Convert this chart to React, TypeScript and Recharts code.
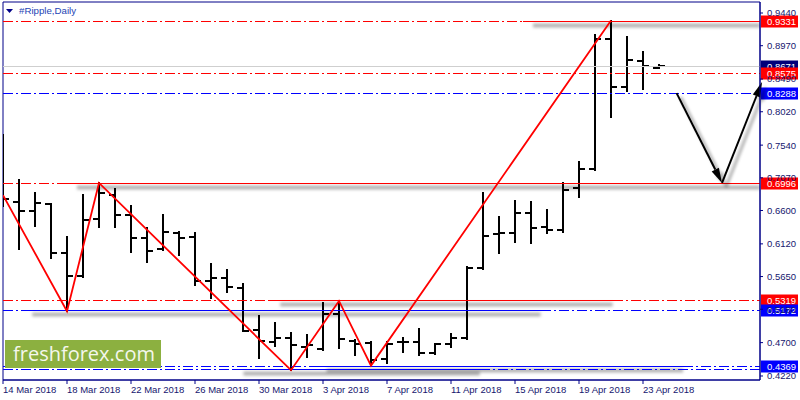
import React from "react";
import {
  Bar,
  ComposedChart,
  Line,
  ReferenceArea,
  ReferenceLine,
  XAxis,
  YAxis
} from "recharts";

// daily bars, day 0 = 14 Mar 2018
const days = [
  0, 1, 2, 3, 4, 5, 6, 7, 8, 9, 10, 11, 12, 13, 14, 15, 16, 17, 18, 19, 20,
  21, 22, 23, 24, 25, 26, 27, 28, 29, 30, 31, 32, 33, 34, 35, 36, 37, 38, 39,
  40, 41
];
const opens = [
  0.7, 0.6721, 0.6591, 0.6692, 0.5987, 0.5656, 0.6476, 0.6821, 0.6533, 0.6203,
  0.6044, 0.6274, 0.6217, 0.5584, 0.5627, 0.5483, 0.4879, 0.4706, 0.4764,
  0.4634, 0.4606, 0.5109, 0.4721, 0.4692, 0.4462, 0.4706, 0.4706, 0.4548,
  0.4677, 0.4764, 0.5771, 0.626, 0.6274, 0.6562, 0.6361, 0.6318, 0.6922,
  0.7195, 0.9066, 0.8375, 0.8749, 0.8649
];
const highs = [
  0.7685, 0.7037, 0.685, 0.6692, 0.6217, 0.6821, 0.6996, 0.6908, 0.6663,
  0.6346, 0.6533, 0.6289, 0.6274, 0.5829, 0.5742, 0.5541, 0.508, 0.498, 0.4836,
  0.4807, 0.5267, 0.53, 0.4735, 0.4706, 0.4706, 0.4764, 0.4893, 0.4677, 0.4821,
  0.5785, 0.685, 0.6505, 0.6735, 0.6721, 0.6606, 0.6994, 0.7296, 0.9124,
  0.9331, 0.9095, 0.8879, 0.8692
];
const lows = [
  0.6663, 0.6044, 0.6375, 0.5915, 0.5152, 0.5641, 0.6361, 0.6361, 0.6001,
  0.5857, 0.603, 0.5958, 0.5526, 0.5339, 0.5426, 0.486, 0.4476, 0.4649, 0.4303,
  0.449, 0.4591, 0.462, 0.4519, 0.4369, 0.4404, 0.4562, 0.4519, 0.4534, 0.4634,
  0.4749, 0.5757, 0.5987, 0.6145, 0.6131, 0.6274, 0.6289, 0.6793, 0.7181,
  0.7944, 0.8318, 0.8347, 0.8649
];
const closes = [
  0.6764, 0.6591, 0.6706, 0.5987, 0.5656, 0.6462, 0.685, 0.6533, 0.6203,
  0.6016, 0.6289, 0.6203, 0.5584, 0.5627, 0.5498, 0.4865, 0.4721, 0.4764,
  0.4663, 0.4663, 0.5109, 0.4749, 0.4677, 0.4447, 0.4677, 0.4706, 0.4548,
  0.4677, 0.4764, 0.5771, 0.6231, 0.6274, 0.6562, 0.6346, 0.6318, 0.6893,
  0.7195, 0.9066, 0.8375, 0.8764, 0.8677, 0.8671
];

const dateTicks = [0, 4, 8, 12, 16, 20, 24, 28, 32, 36, 40];
const dateLabels = [
  "14 Mar 2018",
  "18 Mar 2018",
  "22 Mar 2018",
  "26 Mar 2018",
  "30 Mar 2018",
  "3 Apr 2018",
  "7 Apr 2018",
  "11 Apr 2018",
  "15 Apr 2018",
  "19 Apr 2018",
  "23 Apr 2018"
];
const priceTicks = [
  0.944, 0.897, 0.849, 0.802, 0.754, 0.707, 0.66, 0.612, 0.565, 0.518, 0.47,
  0.422
];

const zigzagDays = [0, 4, 6, 18, 21, 23, 38];
const zigzagPrices = [0.6821, 0.5152, 0.6996, 0.4303, 0.53, 0.4369, 0.9331];

// horizontal levels: solid part between solidFrom and solidTo, dash-dot elsewhere
const levelPrices = [0.9331, 0.8575, 0.8288, 0.6996, 0.5319, 0.5172, 0.4369, 0.4317];
const levelKinds = ["res", "res", "sup", "res", "res", "sup", "sup", "sup"];
const levelSolidFrom = [32.5, null, null, 4.0, 16.7, 1.2, 19.6, 14.4];
const levelSolidTo = [47.3125, null, null, 47.3125, 38.1, 33.6, 42.5, 29.8];
const levelLabelled = [true, true, true, true, true, true, true, false];

const lastPrice = 0.8671;

const arrowDays = [42.1, 44.94, 47.44];
const arrowPrices = [0.8288, 0.6996, 0.8447];

const X_MAX = 47.3125;
const Y_MIN = 0.41624;
const Y_MAX = 0.95983;
const FONT = "'Liberation Sans', Arial, sans-serif";
const NAVY = "#000088";
const TEXT = "#16166e";

const rows = days.map((day, i) => ({
  day,
  open: opens[i],
  high: highs[i],
  low: lows[i],
  close: closes[i]
}));

const zigzag = zigzagDays.map((day, i) => ({ day, price: zigzagPrices[i] }));

const softShadow = (
  <defs>
    <filter
      id="soft"
      filterUnits="userSpaceOnUse"
      x={0}
      y={0}
      width={800}
      height={400}
    >
      <feGaussianBlur stdDeviation="1.8" />
    </filter>
  </defs>
);

function OhlcBar(props: any) {
  const { x, y, width, height, payload } = props;
  if (!payload || !Number.isFinite(y)) {
    return null;
  }

  const cx = Math.round(x + width / 2);
  const range = payload.high - payload.low;
  const at = (p: number) =>
    range === 0 ? y : y + ((payload.high - p) / range) * height;
  const yo = Math.round(at(payload.open));
  const yc = Math.round(at(payload.close));

  return (
    <g stroke="#000" strokeWidth={2}>
      <line x1={cx} x2={cx} y1={Math.round(y) - 1} y2={Math.round(y + height) + 1} />
      <line x1={cx - 6} x2={cx} y1={yo} y2={yo} />
      <line x1={cx} x2={cx + 6} y1={yc} y2={yc} />
    </g>
  );
}

function levelShape(
  color: string,
  solid: boolean,
  shadow: boolean,
  label: string | null,
  boxColor: string
) {
  return (props: any) => {
    const { x1, x2, y1 } = props;
    const y = Math.round(y1) + 0.5;

    return (
      <g>
        {shadow && softShadow}
        {shadow && (
          <line
            x1={x1 + 10}
            x2={x2}
            y1={y + 4}
            y2={y + 4}
            stroke="#000"
            strokeOpacity={0.3}
            strokeWidth={4}
            filter="url(#soft)"
          />
        )}
        <line
          x1={x1}
          x2={x2}
          y1={y}
          y2={y}
          stroke={color}
          strokeWidth={1}
          shapeRendering="crispEdges"
          strokeDasharray={solid ? undefined : "10 3 2 3"}
        />
        {label && (
          <g>
            <rect x={x2 + 1} y={y - 6} width={37} height={12} fill={boxColor} />
            <text
              x={767}
              y={y}
              dy="0.355em"
              fill="#fff"
              fontSize={9.5}
              fontFamily={FONT}
            >
              {label}
            </text>
          </g>
        )}
      </g>
    );
  };
}

function ArrowShape(props: any) {
  const { x1, y1, x2, y2 } = props;
  const dx = x2 - x1;
  const dy = y2 - y1;
  const len = Math.hypot(dx, dy) || 1;
  const ux = dx / len;
  const uy = dy / len;
  const bx = x2 - ux * 15;
  const by = y2 - uy * 15;
  const px = -uy * 4;
  const py = ux * 4;
  const head = `${x2},${y2} ${bx + px},${by + py} ${bx - px},${by - py}`;

  return (
    <g>
      {softShadow}
      <g transform="translate(4,4)" opacity={0.3} filter="url(#soft)">
        <line x1={x1} y1={y1} x2={bx} y2={by} stroke="#000" strokeWidth={3} />
        <polygon points={head} fill="#000" />
      </g>
      <line x1={x1} y1={y1} x2={bx} y2={by} stroke="#000" strokeWidth={2} />
      <polygon points={head} fill="#000" />
    </g>
  );
}

function DateTick(props: any) {
  const { x, y, payload } = props;
  const label = dateLabels[dateTicks.indexOf(payload.value)];

  return (
    <text
      x={x}
      y={y}
      dy="0.71em"
      textAnchor="start"
      fill={TEXT}
      fontSize={9.5}
      fontFamily={FONT}
    >
      {label}
    </text>
  );
}

function levelSegments() {
  const out: JSX.Element[] = [];

  levelPrices.forEach((price, i) => {
    const color = levelKinds[i] === "res" ? "#ff0000" : "#0000ff";
    const from = levelSolidFrom[i];
    const to = levelSolidTo[i];
    const label = levelLabelled[i] ? price.toFixed(4) : null;
    const parts: [number, number, boolean][] =
      from === null || to === null
        ? [[0, X_MAX, false]]
        : [
            [0, from, false],
            [from, to, true],
            [to, X_MAX, false]
          ];

    parts
      .filter(([a, b]) => b - a > 0.001)
      .forEach(([a, b, solid], k, list) => {
        const last = k === list.length - 1;
        out.push(
          <ReferenceLine
            key={`lvl-${i}-${k}`}
            segment={[
              { x: a, y: price },
              { x: b, y: price }
            ]}
            ifOverflow="visible"
            shape={levelShape(color, solid, solid, last ? label : null, color)}
          />
        );
      });
  });

  return out;
}

export default function App(): JSX.Element {
  return (
    <div
      style={{
        position: "absolute",
        left: 0,
        top: 0,
        width: 800,
        height: 400,
        background: "#fff"
      }}
    >
      <ComposedChart
        width={800}
        height={400}
        data={rows}
        margin={{ top: 2, right: 0, bottom: 0, left: 3 }}
      >
        <XAxis
          dataKey="day"
          type="number"
          domain={[0, X_MAX]}
          allowDataOverflow
          ticks={dateTicks}
          interval={0}
          height={20}
          tickSize={4}
          axisLine={{ stroke: NAVY }}
          tickLine={{ stroke: NAVY }}
          tick={<DateTick />}
        />

        <YAxis
          orientation="right"
          type="number"
          domain={[Y_MIN, Y_MAX]}
          allowDataOverflow
          ticks={priceTicks}
          interval={0}
          width={40}
          tickSize={3}
          tickMargin={4}
          tickFormatter={(v: number) => v.toFixed(4)}
          axisLine={{ stroke: NAVY }}
          tickLine={{ stroke: NAVY }}
          tick={{ fill: TEXT, fontSize: 9.5, fontFamily: FONT }}
        />

        <ReferenceArea
          x1={0}
          x2={X_MAX}
          y1={Y_MIN}
          y2={Y_MAX}
          fill="none"
          stroke={NAVY}
          ifOverflow="visible"
        />

        <ReferenceLine
          segment={[
            { x: 0, y: lastPrice },
            { x: X_MAX, y: lastPrice }
          ]}
          ifOverflow="visible"
          shape={levelShape("#cfcfcf", true, false, lastPrice.toFixed(4), "#00007a")}
        />

        {levelSegments()}

        <Bar
          dataKey={(r: any) => [r.low, r.high]}
          barSize={6}
          shape={OhlcBar}
          isAnimationActive={false}
        />

        <Line
          data={zigzag}
          dataKey="price"
          stroke="#ff0000"
          strokeWidth={1.8}
          dot={false}
          activeDot={false}
          isAnimationActive={false}
        />

        <ReferenceLine
          segment={[
            { x: arrowDays[0], y: arrowPrices[0] },
            { x: arrowDays[1], y: arrowPrices[1] }
          ]}
          ifOverflow="visible"
          shape={ArrowShape}
        />

        <ReferenceLine
          segment={[
            { x: arrowDays[1], y: arrowPrices[1] },
            { x: arrowDays[2], y: arrowPrices[2] }
          ]}
          ifOverflow="visible"
          shape={ArrowShape}
        />
      </ComposedChart>

      <div
        style={{
          position: "absolute",
          left: 6,
          top: 3,
          display: "flex",
          alignItems: "center",
          gap: 6,
          fontFamily: FONT,
          fontSize: 9.7,
          color: "#2444b4",
          lineHeight: "16px"
        }}
      >
        <svg width={7} height={4}>
          <polygon points="0,0 7,0 3.5,4" fill={NAVY} />
        </svg>
        <span>#Ripple,Daily</span>
      </div>

      <div
        style={{
          position: "absolute",
          left: 5,
          top: 340,
          width: 156,
          height: 28,
          background: "#8cb040",
          color: "#f4f7ec",
          fontFamily: "'Open Sans', sans-serif",
          fontSize: 20,
          lineHeight: "28px",
          paddingLeft: 8,
          boxSizing: "border-box",
          whiteSpace: "nowrap"
        }}
      >
        freshforex.com
      </div>
    </div>
  );
}
